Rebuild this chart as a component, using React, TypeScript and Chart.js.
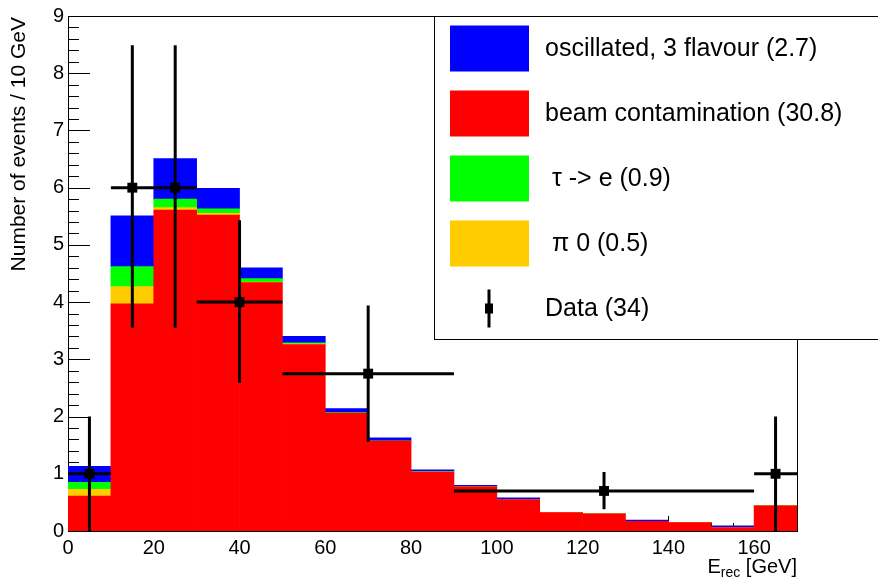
import { useEffect, useRef } from 'react';
import { Chart, registerables } from 'chart.js';

Chart.register(...registerables);

// ---- data ----
const binCenters = [5, 15, 25, 35, 45, 55, 65, 75, 85, 95, 105, 115, 125, 135, 145, 155, 165];
const beamContamination = [0.61, 3.97, 5.61, 5.52, 4.34, 3.26, 2.06, 1.57, 1.03, 0.77, 0.55, 0.32, 0.30, 0.17, 0.145, 0.06, 0.44];
const pi0 = [0.12, 0.30, 0.04, 0.03, 0.01, 0.01, 0, 0, 0, 0, 0, 0, 0, 0, 0, 0, 0];
const tauToE = [0.12, 0.35, 0.15, 0.08, 0.06, 0.02, 0.01, 0, 0.01, 0, 0, 0, 0, 0, 0, 0, 0];
const oscillated = [0.28, 0.89, 0.71, 0.36, 0.19, 0.11, 0.07, 0.06, 0.03, 0.03, 0.03, 0, 0, 0.02, 0, 0.03, 0];

const dataX = [5, 15, 25, 40, 70, 125, 165];
const dataY = [1, 6, 6, 4, 2.75, 0.7, 1];
const dataXLow = [0, 10, 20, 30, 50, 90, 160];
const dataXHigh = [10, 20, 30, 50, 90, 160, 170];
const dataYErrLow = [1, 2.45, 2.45, 1.41, 1.19, 0.32, 1];
const dataYErrHigh = [1, 2.49, 2.49, 1.43, 1.19, 0.33, 1];

const xTickValues = [0, 20, 40, 60, 80, 100, 120, 140, 160];
const yTickValues = [0, 1, 2, 3, 4, 5, 6, 7, 8, 9];

const legendLabels = [
  'oscillated, 3 flavour (2.7)',
  'beam contamination (30.8)',
  ' \u03c4 -> e (0.9)',
  ' \u03c0 0 (0.5)',
  'Data (34)',
];
const legendColors = ['#0000ff', '#ff0000', '#00ff00', '#ffcc00'];

const FONT = '"Liberation Sans", Arial, Helvetica, sans-serif';

const rootPlugin = {
  id: 'rootStyle',
  beforeDatasetsDraw(chart: any) {
    const { ctx, chartArea: a, scales } = chart;
    const x = scales.x;
    const y = scales.y;
    ctx.save();
    ctx.strokeStyle = '#000';
    ctx.lineWidth = 1;
    ctx.strokeRect(a.left + 0.5, a.top + 0.5, a.right - a.left, a.bottom - a.top);
    ctx.beginPath();
    // y ticks
    for (let i = 0; i < yTickValues.length; i++) {
      const v = yTickValues[i];
      const py = Math.round(y.getPixelForValue(v)) + 0.5;
      ctx.moveTo(a.left, py);
      ctx.lineTo(a.left + 22, py);
      if (i < yTickValues.length - 1) {
        const step = (yTickValues[i + 1] - v) / 5;
        for (let k = 1; k < 5; k++) {
          const pm = Math.round(y.getPixelForValue(v + k * step)) + 0.5;
          ctx.moveTo(a.left, pm);
          ctx.lineTo(a.left + 11, pm);
        }
      }
    }
    // x ticks
    const xs = (xTickValues[1] - xTickValues[0]) / 4;
    for (let i = 0; i < xTickValues.length; i++) {
      const v = xTickValues[i];
      const px = Math.round(x.getPixelForValue(v)) + 0.5;
      ctx.moveTo(px, a.bottom);
      ctx.lineTo(px, a.bottom - 15);
      for (let k = 1; k < 4; k++) {
        const mv = v + k * xs;
        if (mv > x.max) break;
        const pm = Math.round(x.getPixelForValue(mv)) + 0.5;
        ctx.moveTo(pm, a.bottom);
        ctx.lineTo(pm, a.bottom - 8);
      }
    }
    ctx.stroke();
    ctx.restore();
  },
  afterDatasetsDraw(chart: any) {
    const { ctx, scales } = chart;
    const x = scales.x;
    const y = scales.y;
    ctx.save();
    ctx.strokeStyle = '#000';
    ctx.lineWidth = 3;
    ctx.beginPath();
    for (let i = 0; i < dataX.length; i++) {
      const px = x.getPixelForValue(dataX[i]);
      const py = y.getPixelForValue(dataY[i]);
      ctx.moveTo(x.getPixelForValue(dataXLow[i]), py);
      ctx.lineTo(x.getPixelForValue(dataXHigh[i]), py);
      ctx.moveTo(px, y.getPixelForValue(dataY[i] - dataYErrLow[i]));
      ctx.lineTo(px, y.getPixelForValue(dataY[i] + dataYErrHigh[i]));
    }
    ctx.stroke();
    ctx.restore();
  },
  afterDraw(chart: any) {
    const { ctx, chartArea: a } = chart;
    ctx.save();
    ctx.fillStyle = '#000';
    // y title
    ctx.save();
    ctx.translate(19, a.top + 1);
    ctx.rotate(-Math.PI / 2);
    ctx.font = `21px ${FONT}`;
    ctx.textAlign = 'right';
    ctx.textBaseline = 'middle';
    ctx.fillText('Number of events / 10 GeV', 0, 0);
    ctx.restore();

    // x title: E_rec [GeV]
    const base = 573;
    ctx.textBaseline = 'alphabetic';
    ctx.textAlign = 'left';
    ctx.font = `20px ${FONT}`;
    const tail = ' [GeV]';
    const wTail = ctx.measureText(tail).width;
    const wE = ctx.measureText('E').width;
    ctx.font = `14px ${FONT}`;
    const wSub = ctx.measureText('rec').width;
    const xEnd = a.right;
    const xStart = xEnd - wTail - wSub - wE;
    ctx.font = `20px ${FONT}`;
    ctx.fillText('E', xStart, base);
    ctx.fillText(tail, xStart + wE + wSub, base);
    ctx.font = `14px ${FONT}`;
    ctx.fillText('rec', xStart + wE, base + 4);

    // legend
    const lx = 434;
    const ly = a.top;
    ctx.fillStyle = '#fff';
    ctx.fillRect(lx, ly, 460, 324);
    ctx.strokeStyle = '#000';
    ctx.lineWidth = 1;
    ctx.strokeRect(lx + 0.5, ly + 0.5, 460, 323);
    const rowH = 65;
    for (let i = 0; i < legendLabels.length; i++) {
      const cy = ly + 32.5 + i * rowH;
      if (i < legendColors.length) {
        ctx.fillStyle = legendColors[i];
        ctx.fillRect(450, cy - 23, 79, 46);
      } else {
        ctx.fillStyle = '#000';
        ctx.fillRect(487.5, cy - 19, 3, 38);
        ctx.fillRect(485, cy - 5, 8, 10);
      }
      ctx.fillStyle = '#000';
      ctx.font = `25px ${FONT}`;
      ctx.textAlign = 'left';
      ctx.textBaseline = 'middle';
      ctx.fillText(legendLabels[i], 545, cy + 1);
    }
    ctx.restore();
  },
};

export default function App() {
  const ref = useRef<HTMLCanvasElement | null>(null);
  useEffect(() => {
    document.body.style.margin = '0';
    const canvas = ref.current;
    if (!canvas) return;
    const mk = (vals: number[]) => binCenters.map((c, i) => ({ x: c, y: vals[i] }));
    const barCommon = {
      type: 'bar' as const,
      stack: 'mc',
      barPercentage: 1,
      categoryPercentage: 1,
      borderWidth: 0,
      order: 1,
    };
    const chart = new Chart(canvas, {
      type: 'bar',
      data: {
        datasets: [
          {
            type: 'scatter' as any,
            label: 'Data (34)',
            data: dataX.map((xv, i) => ({ x: xv, y: dataY[i] })),
            stack: 'data',
            pointStyle: 'rect',
            pointRadius: 7,
            pointBorderWidth: 0,
            backgroundColor: '#000',
            borderColor: '#000',
            order: 0,
          } as any,
          { ...barCommon, label: 'beam contamination (30.8)', data: mk(beamContamination), backgroundColor: '#ff0000' } as any,
          { ...barCommon, label: 'pi0 (0.5)', data: mk(pi0), backgroundColor: '#ffcc00' } as any,
          { ...barCommon, label: 'tau -> e (0.9)', data: mk(tauToE), backgroundColor: '#00ff00' } as any,
          { ...barCommon, label: 'oscillated, 3 flavour (2.7)', data: mk(oscillated), backgroundColor: '#0000ff' } as any,
        ],
      },
      options: {
        responsive: false,
        animation: false,
        events: [],
        layout: { padding: { top: 13, right: 81, left: 0, bottom: 0 } },
        plugins: { legend: { display: false }, tooltip: { enabled: false }, title: { display: false } },
        scales: {
          x: {
            type: 'linear',
            min: 0,
            max: 170,
            offset: false,
            grid: { display: false, drawTicks: false },
            border: { display: false },
            ticks: { font: { size: 20, family: FONT }, color: '#000', padding: 5, maxRotation: 0, autoSkip: false },
            afterBuildTicks: (s: any) => {
              s.ticks = xTickValues.map((v) => ({ value: v }));
            },
            afterFit: (s: any) => {
              s.height = 49;
            },
          },
          y: {
            type: 'linear',
            stacked: true,
            min: 0,
            max: 9,
            grid: { display: false, drawTicks: false },
            border: { display: false },
            ticks: { font: { size: 20, family: FONT }, color: '#000', padding: 4, autoSkip: false },
            afterBuildTicks: (s: any) => {
              s.ticks = yTickValues.map((v) => ({ value: v }));
            },
            afterFit: (s: any) => {
              s.width = 68;
            },
          },
        },
      } as any,
      plugins: [rootPlugin],
    });
    return () => chart.destroy();
  }, []);
  return (
    <canvas
      ref={ref}
      width={878}
      height={580}
      style={{ position: 'absolute', left: 0, top: 0, width: 878, height: 580 }}
    />
  );
}
